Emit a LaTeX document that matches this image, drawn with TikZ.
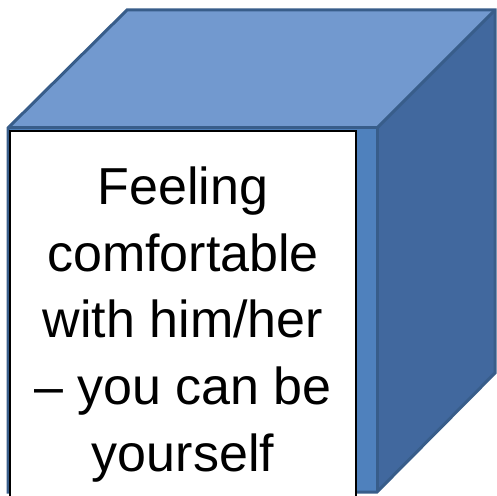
\documentclass[tikz,border=0pt]{standalone}
\usepackage{fontspec}
\setmainfont{Liberation Sans}
\definecolor{frontc}{HTML}{4F81BD}
\definecolor{topc}{HTML}{7299CF}
\definecolor{sidec}{HTML}{41689E}
\definecolor{edgec}{HTML}{385D8A}
\tikzset{
  face/.style={draw=edgec, line width=3pt, line join=miter},
  textbox/.style={draw=black, line width=2pt, fill=white},
  boxline/.style={anchor=base, font=\fontsize{52}{62}\selectfont, inner sep=0pt, text=black}
}
\begin{document}
\begin{tikzpicture}[x=1pt,y=1pt]
\useasboundingbox (0,0) rectangle (497,495);
\clip (0,0) rectangle (497,495);
% cube corners (y = 495 - pixel row)
\coordinate (ftl) at (8,367);
\coordinate (ftr) at (377,367);
\coordinate (fbr) at (377,3);
\coordinate (fbl) at (8,3);
\coordinate (btl) at (127,485);
\coordinate (btr) at (495,485);
\coordinate (bbr) at (495,122);
% faces
\fill[frontc] (ftl) -- (ftr) -- (fbr) -- (fbl) -- cycle;
\fill[topc] (ftl) -- (btl) -- (btr) -- (ftr) -- cycle;
\fill[sidec] (ftr) -- (btr) -- (bbr) -- (fbr) -- cycle;
\draw[face] (ftl) -- (btl) -- (btr) -- (bbr) -- (fbr) -- (fbl) -- cycle;
\draw[face] (ftl) -- (ftr) -- (fbr);
\draw[face] (ftr) -- (btr);
% white text box
\draw[textbox] (10,364) rectangle (356,-5);
\node[boxline] (l1) at (183,290) {Feeling};
\node[boxline] (l2) at (183,223.5) {comfortable};
\node[boxline] (l3) at (183,157) {with him/her};
\node[boxline] (l4) at (183,90.5) {– you can be};
\node[boxline] (l5) at (183,24) {yourself};
\end{tikzpicture}
\end{document}
